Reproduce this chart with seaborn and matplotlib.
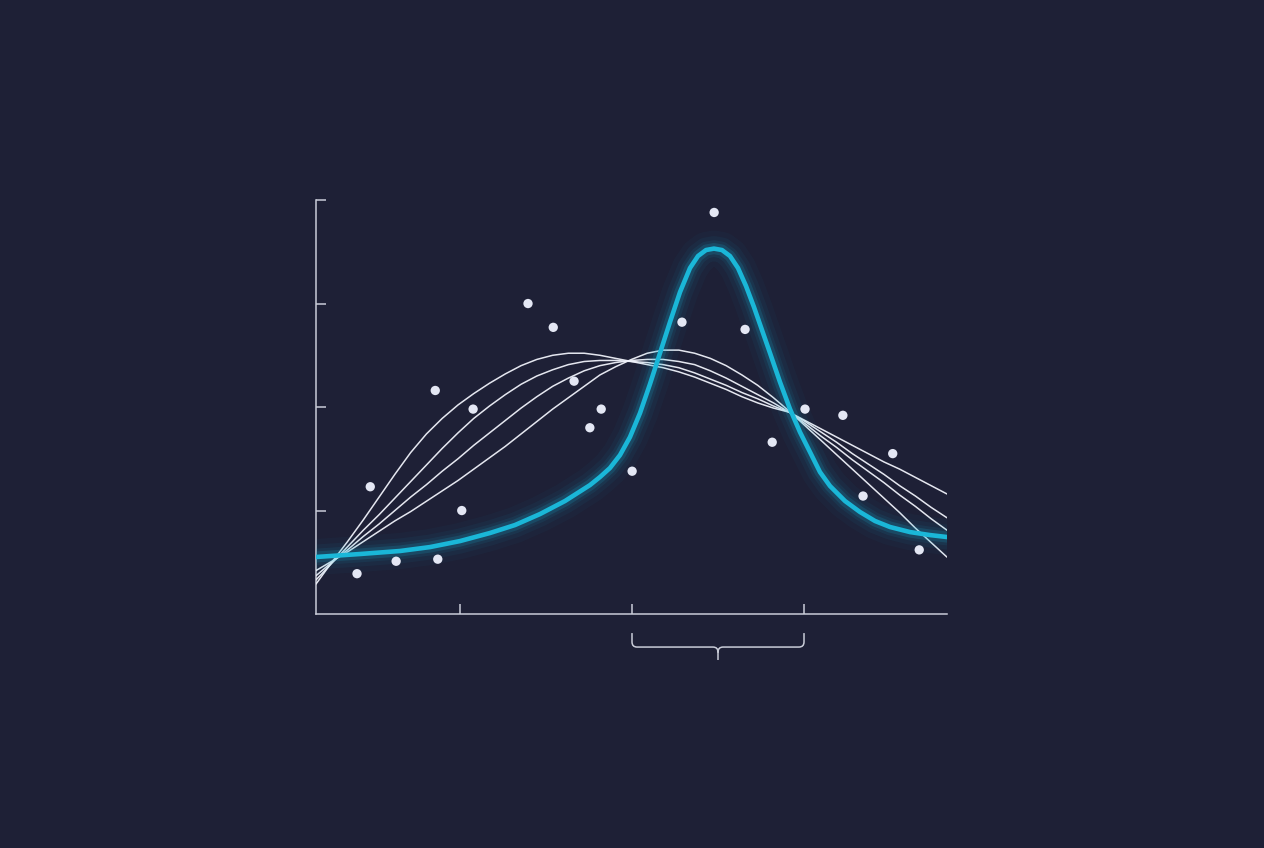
import numpy as np
import pandas as pd
import seaborn as sns
import matplotlib.pyplot as plt
from matplotlib.path import Path
from matplotlib.patches import PathPatch

# colours
bg = '#1e2036'
axis_col = '#c9ccd8'
cyan = '#1ab7d8'
dot_col = '#e4e7f4'

# observed points
pts_x = [33.6, 37.6, 40.9, 18.9, 24.9, 45.2, 43.4, 50.1, 8.6, 23.1, 6.5,
         12.7, 19.3, 63.1, 58.0, 68.0, 77.5, 83.5, 72.3, 91.4, 86.7, 95.6]
pts_y = [3.00, 2.77, 2.25, 2.16, 1.98, 1.98, 1.80, 1.38, 1.23, 1.00, 0.39,
         0.51, 0.53, 3.88, 2.82, 2.75, 1.98, 1.92, 1.66, 1.55, 1.14, 0.62]

# thin candidate fits, shared x grid
fit_x = [0, 2.5, 5, 7.5, 10, 12.5, 15, 17.5, 20, 22.5, 25, 27.5, 30, 32.5, 35, 37.5,
         40, 42.5, 45, 47.5, 50, 52.5, 55, 57.5, 60, 62.5, 65, 67.5, 70, 72.5, 75,
         77.5, 80, 82.5, 85, 87.5, 90, 92.5, 95, 97.5, 100]
fit_a = [0.29, 0.50, 0.70, 0.91, 1.13, 1.35, 1.56, 1.74, 1.89, 2.02, 2.13, 2.23, 2.32,
         2.40, 2.46, 2.50, 2.52, 2.52, 2.50, 2.47, 2.44, 2.41, 2.38, 2.34, 2.29, 2.23,
         2.17, 2.10, 2.04, 1.99, 1.95, 1.87, 1.79, 1.71, 1.63, 1.55, 1.47, 1.40, 1.32,
         1.24, 1.16]
fit_b = [0.33, 0.49, 0.65, 0.81, 0.96, 1.12, 1.28, 1.44, 1.60, 1.75, 1.89, 2.01, 2.12,
         2.22, 2.30, 2.36, 2.41, 2.44, 2.45, 2.45, 2.44, 2.43, 2.41, 2.38, 2.33, 2.27,
         2.21, 2.14, 2.08, 2.01, 1.95, 1.86, 1.76, 1.66, 1.55, 1.45, 1.35, 1.24, 1.14,
         1.03, 0.93]
fit_c = [0.37, 0.50, 0.62, 0.75, 0.87, 1.00, 1.13, 1.25, 1.38, 1.50, 1.63, 1.75, 1.87,
         1.99, 2.10, 2.20, 2.28, 2.35, 2.40, 2.43, 2.45, 2.46, 2.46, 2.44, 2.41, 2.35,
         2.28, 2.20, 2.12, 2.04, 1.95, 1.84, 1.72, 1.61, 1.49, 1.38, 1.27, 1.15, 1.04,
         0.92, 0.81]
fit_d = [0.42, 0.51, 0.60, 0.70, 0.80, 0.90, 0.99, 1.09, 1.19, 1.29, 1.40, 1.51, 1.62,
         1.74, 1.86, 1.98, 2.09, 2.20, 2.31, 2.39, 2.46, 2.52, 2.55, 2.55, 2.52, 2.47,
         2.40, 2.31, 2.21, 2.09, 1.96, 1.82, 1.68, 1.54, 1.40, 1.26, 1.12, 0.98, 0.83,
         0.69, 0.55]

# highlighted fit
best_x = [0, 6.97, 13.31, 18.07, 22.82, 27.58, 31.54, 35.50, 39.46, 43.42, 45.01,
          46.59, 48.18, 49.76, 51.35, 52.93, 54.52, 56.10, 57.69, 59.27, 60.54, 61.81,
          63.07, 64.34, 65.61, 66.88, 68.15, 69.41, 70.68, 71.95, 73.53, 75.12, 76.70,
          78.29, 79.87, 81.46, 83.84, 86.21, 88.59, 90.97, 94.14, 97.31, 100]
best_y = [0.551, 0.580, 0.609, 0.647, 0.705, 0.783, 0.860, 0.966, 1.092, 1.246, 1.324,
          1.411, 1.536, 1.710, 1.942, 2.222, 2.522, 2.821, 3.111, 3.343, 3.459, 3.517,
          3.531, 3.517, 3.459, 3.343, 3.169, 2.966, 2.744, 2.522, 2.242, 1.981, 1.758,
          1.565, 1.372, 1.237, 1.092, 0.986, 0.899, 0.841, 0.792, 0.763, 0.744]

x_ticks = [22.82, 50.08, 77.34]
y_ticks = [1, 2, 3, 4]

sns.set_style('white')
fig = plt.figure(figsize=(12.64, 8.48), dpi=100, facecolor=bg)
ax = fig.add_axes([0.25, 0.2759, 0.4992, 0.4882])
ax.set_facecolor(bg)

for fy in [fit_a, fit_b, fit_c, fit_d]:
    sns.lineplot(x=fit_x, y=fy, ax=ax, color='#f0f2fa', lw=1.1, alpha=0.95, zorder=3)

# glow behind the highlighted curve
for w, a in [(26, 0.03), (18, 0.05), (12, 0.08), (8, 0.16)]:
    ax.plot(best_x, best_y, color=cyan, lw=w, alpha=a, solid_capstyle='round',
            solid_joinstyle='round', zorder=4)
sns.lineplot(x=best_x, y=best_y, ax=ax, color=cyan, lw=3.3, zorder=5)

sns.scatterplot(x=pts_x, y=pts_y, ax=ax, color=dot_col, s=45, edgecolor='none', zorder=6)

ax.set_xlim(0, 100)
ax.set_ylim(0, 4)
ax.set_xticks(x_ticks)
ax.set_yticks(y_ticks)
ax.set_xticklabels([])
ax.set_yticklabels([])
ax.tick_params(left=True, bottom=True, direction='in', length=7.5, width=1.1,
               color=axis_col)
for s in ['top', 'right']:
    ax.spines[s].set_visible(False)
for s in ['left', 'bottom']:
    ax.spines[s].set_color(axis_col)
    ax.spines[s].set_linewidth(1.1)
ax.set_xlabel('')
ax.set_ylabel('')

# curly brace under the middle interval
xl, xr = x_ticks[1], x_ticks[2]
xm = (xl + xr) / 2
ytop, yh, ytip = -0.184, -0.319, -0.444
rx, ry = 0.8, 0.05
verts = [(xl, ytop), (xl, yh + ry), (xl, yh), (xl + rx, yh), (xm - rx, yh),
         (xm, yh), (xm, yh - ry), (xm, ytip),
         (xr, ytop), (xr, yh + ry), (xr, yh), (xr - rx, yh), (xm + rx, yh),
         (xm, yh), (xm, yh - ry)]
codes = [Path.MOVETO, Path.LINETO, Path.CURVE3, Path.CURVE3, Path.LINETO,
         Path.CURVE3, Path.CURVE3, Path.LINETO,
         Path.MOVETO, Path.LINETO, Path.CURVE3, Path.CURVE3, Path.LINETO,
         Path.CURVE3, Path.CURVE3]
brace = PathPatch(Path(verts, codes), fill=False, edgecolor=axis_col, lw=1.1,
                  clip_on=False)
ax.add_patch(brace)

fig.savefig('out.png', dpi=100, facecolor=bg)
